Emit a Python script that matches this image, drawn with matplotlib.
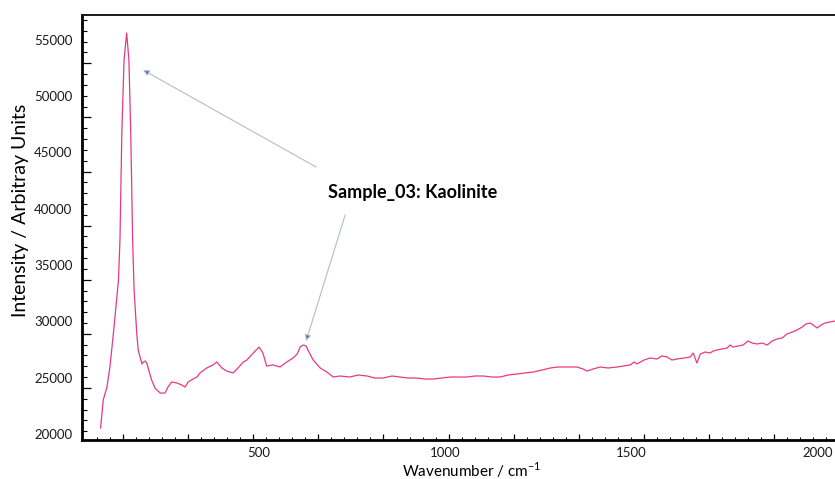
import numpy as np
import matplotlib
matplotlib.use("Agg")
import matplotlib.pyplot as plt
from matplotlib.ticker import FixedLocator, NullFormatter

plt.rcParams['font.family'] = ['Lato', 'DejaVu Sans']
plt.rcParams['mathtext.fontset'] = 'custom'
plt.rcParams['mathtext.rm'] = 'Lato'

# Raman spectrum, Sample_03
wavenumber = [74, 81, 91, 99, 108, 117, 122, 126, 131, 137, 144, 150, 155, 160, 164,
              171, 175, 180, 185, 189, 194, 199, 204, 211, 220, 234, 247, 255, 265, 279,
              292, 301, 309, 322, 333, 341, 359, 376, 386, 400, 413, 430, 443, 457, 467,
              484, 500, 510, 520, 537, 556, 574, 591, 602, 610, 618, 626, 631, 645, 664,
              682, 699, 717, 744, 766, 790, 811, 833, 857, 879, 900, 924, 946, 967, 991,
              1013, 1034, 1059, 1080, 1102, 1126, 1147, 1169, 1193, 1214, 1236, 1260, 1282, 1303, 1327,
              1354, 1370, 1381, 1397, 1416, 1437, 1462, 1480, 1497, 1507, 1515, 1534, 1550, 1569, 1582,
              1596, 1609, 1623, 1642, 1658, 1666, 1676, 1685, 1698, 1711, 1720, 1730, 1744, 1757, 1765,
              1773, 1787, 1800, 1813, 1824, 1838, 1851, 1865, 1878, 1891, 1905, 1918, 1932, 1945, 1959,
              1969, 1980, 1988, 1999, 2010, 2020, 2034, 2047]
intensity = [20540, 23020, 24170, 25950, 28790, 31890, 33670, 37220, 46710, 53190, 55580, 53190, 46710, 37220, 32780,
             28970, 27460, 26840, 26220, 26390, 26480, 26220, 25590, 24800, 24090, 23640, 23640, 24170, 24620, 24530,
             24350, 24170, 24620, 24880, 25060, 25420, 25860, 26130, 26390, 25860, 25590, 25420, 25860, 26390, 26570,
             27190, 27720, 27190, 26040, 26130, 25950, 26390, 26750, 27100, 27720, 27900, 27810, 27460, 26570, 25860,
             25500, 25060, 25150, 25060, 25240, 25150, 24970, 24970, 25150, 25060, 24970, 24970, 24880, 24880, 24970,
             25060, 25060, 25060, 25150, 25150, 25060, 25060, 25240, 25330, 25420, 25500, 25680, 25860, 25950, 25950,
             25950, 25770, 25590, 25770, 25950, 25860, 25950, 26040, 26130, 26390, 26220, 26570, 26750, 26660, 26930,
             26840, 26570, 26660, 26750, 26840, 27190, 26300, 27100, 27280, 27190, 27370, 27460, 27550, 27630, 27900,
             27720, 27810, 27900, 28250, 28080, 27990, 28080, 27900, 28250, 28430, 28520, 28880, 29050, 29230, 29500,
             29760, 29850, 29680, 29410, 29680, 29850, 29940, 30030]

x_labels = [500, 1000, 1500, 2000]
y_labels = [20000, 25000, 30000, 35000, 40000, 45000, 50000, 55000]

# tick marks of the original export are offset from its labels
x_long = np.arange(134, 2050, 175)
x_short = np.arange(64, 2050, 35)
y_long = np.arange(24093, 53000, 4800)
y_short = np.arange(20253, 57200, 960)

fig = plt.figure(figsize=(8.35, 4.79), dpi=100)
ax = fig.add_axes([0.0982, 0.0814, 0.9018, 0.8873])

ax.plot(wavenumber, intensity, color='#e63a80', lw=0.9)
ax.set_xlim(24, 2047)
ax.set_ylim(19472, 57178)

for side in ['left', 'bottom']:
    ax.spines[side].set_linewidth(2.0)
    ax.spines[side].set_color('black')
ax.spines['top'].set_linewidth(1.4)
ax.spines['top'].set_color('#1a1a1a')
ax.spines['right'].set_visible(False)

ax.xaxis.set_major_locator(FixedLocator(x_long))
ax.xaxis.set_minor_locator(FixedLocator(x_short))
ax.yaxis.set_major_locator(FixedLocator(y_long))
ax.yaxis.set_minor_locator(FixedLocator(y_short))
ax.xaxis.set_major_formatter(NullFormatter())
ax.yaxis.set_major_formatter(NullFormatter())
ax.tick_params(axis='x', which='major', direction='in', length=4, width=0.9)
ax.tick_params(axis='x', which='minor', direction='in', length=2.2, width=0.8)
ax.tick_params(axis='y', which='major', direction='in', length=6.5, width=0.9)
ax.tick_params(axis='y', which='minor', direction='in', length=3.5, width=0.8)

sx = ax.secondary_xaxis('bottom')
sx.set_xticks(x_labels, labels=[str(v) for v in x_labels])
sx.tick_params(length=0, pad=5, labelsize=9.5, labelcolor='#1a1a1a')
sx.spines['bottom'].set_visible(False)

sy = ax.secondary_yaxis('left')
sy.set_yticks(y_labels, labels=[str(v) for v in y_labels])
sy.tick_params(length=0, pad=7, labelsize=9.5, labelcolor='#1a1a1a')
sy.spines['left'].set_visible(False)

ax.set_xlabel(r'Wavenumber / cm$^{\mathregular{-1}}$', fontsize=11)
ax.xaxis.set_label_coords(0.518, -0.047)
ax.set_ylabel('Intensity / Arbitray Units', fontsize=14)
ax.yaxis.set_label_coords(-0.07, 0.541)

arrow = dict(arrowstyle='-|>', edgecolor='#b4bccb', facecolor='#4a6cb3',
             lw=0.8, mutation_scale=9, shrinkA=0, shrinkB=0)
ax.annotate('', xy=(188, 52300), xytext=(653, 43690), arrowprops=arrow)
ax.annotate('', xy=(626, 28250), xytext=(731, 39430), arrowprops=arrow)
ax.text(913, 41390, 'Sample_03: Kaolinite', fontsize=13, fontweight='bold',
        ha='center', va='center')

fig.savefig('out.png', dpi=100)
